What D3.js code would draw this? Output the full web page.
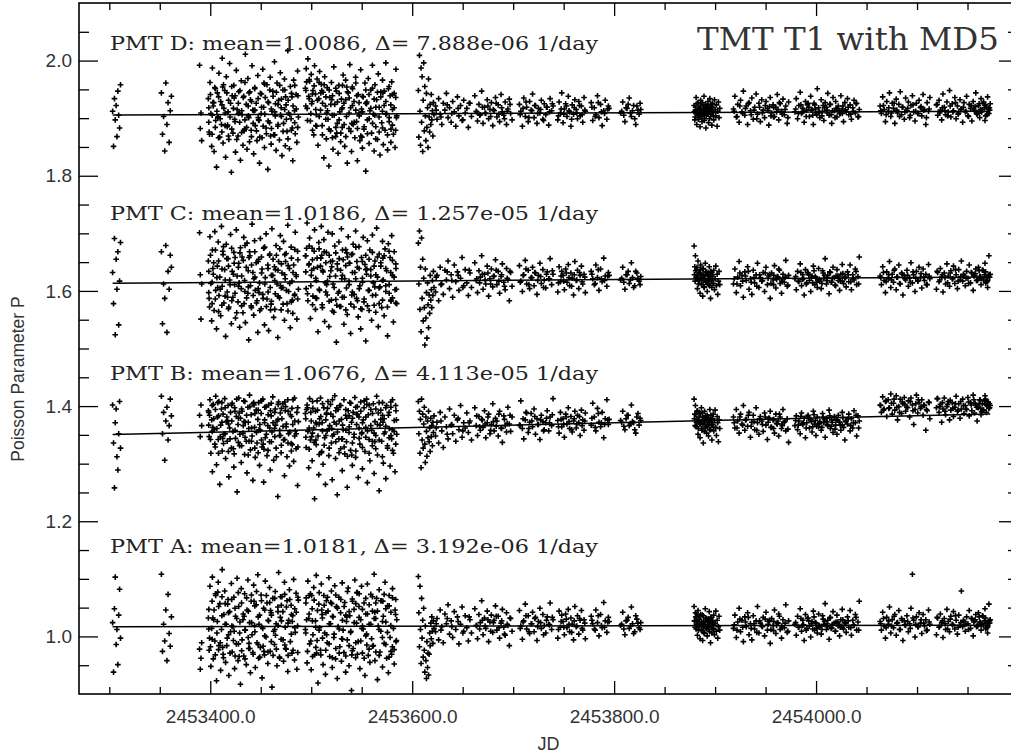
<!DOCTYPE html>
<html>
<head>
<meta charset="utf-8">
<script src="https://cdn.jsdelivr.net/npm/d3@7"></script>
<style>
  html, body { margin: 0; padding: 0; background: #fff; overflow: hidden; }
  svg { display: block; }
</style>
</head>
<body>
<svg id="chart" width="1011" height="756"></svg>
<script>
// Julian dates of the monitoring runs (shared by all four PMTs)
const jd = [
  2453303.3, 2453304.2, 2453305.1, 2453305.9, 2453306.8, 2453307.6, 2453308.5, 2453309.3, 2453310.2, 2453311.1,
  2453351.6, 2453352.7, 2453353.8, 2453354.9, 2453356.0, 2453357.1, 2453358.2, 2453359.3, 2453360.4, 2453361.5,
  2453389.4, 2453390.1, 2453390.8, 2453391.5,
  2453398.1, 2453398.9, 2453399.7, 2453400.6, 2453401.4, 2453402.1, 2453403.0, 2453403.8, 2453404.5, 2453405.4,
  2453406.2, 2453407.0, 2453407.9, 2453408.6, 2453409.4, 2453410.3, 2453411.1, 2453411.8, 2453412.7, 2453413.5,
  2453414.3, 2453415.2, 2453415.9, 2453416.8, 2453417.6, 2453418.4, 2453419.2, 2453420.1, 2453420.9, 2453421.7,
  2453422.5, 2453423.4, 2453424.1, 2453425.0, 2453425.8, 2453426.6, 2453427.5, 2453428.2, 2453429.1, 2453429.9,
  2453430.7, 2453431.5, 2453432.4, 2453433.2, 2453434.0, 2453434.8, 2453435.7, 2453436.4, 2453437.3, 2453438.1,
  2453438.9, 2453439.8, 2453440.5, 2453441.4, 2453442.2, 2453443.0, 2453443.9, 2453444.6, 2453445.5, 2453446.3,
  2453447.1, 2453447.9, 2453448.8, 2453449.6, 2453450.4, 2453451.3, 2453452.0, 2453452.9, 2453453.7, 2453454.5,
  2453455.3, 2453456.2, 2453457.0, 2453457.8, 2453458.7, 2453459.4, 2453460.3, 2453461.1, 2453461.9, 2453462.8,
  2453463.6, 2453464.4, 2453465.2, 2453466.1, 2453466.9, 2453467.7, 2453468.5, 2453469.4, 2453470.2, 2453471.0,
  2453471.9, 2453472.6, 2453473.5, 2453474.3, 2453475.1, 2453476.0, 2453476.8, 2453477.6, 2453478.4, 2453479.3,
  2453480.1, 2453480.9, 2453481.7, 2453482.6, 2453483.4, 2453484.2, 2453485.0, 2453485.8, 2453486.5, 2453487.3,
  2453494.2, 2453495.0, 2453495.9, 2453496.7, 2453497.5, 2453498.4, 2453499.2, 2453500.0, 2453500.9, 2453501.7,
  2453502.5, 2453503.3, 2453504.2, 2453505.0, 2453505.8, 2453506.7, 2453507.5, 2453508.3, 2453509.2, 2453510.0,
  2453510.8, 2453511.7, 2453512.5, 2453513.3, 2453514.1, 2453515.0, 2453515.8, 2453516.6, 2453517.5, 2453518.3,
  2453519.1, 2453520.0, 2453520.8, 2453521.6, 2453522.4, 2453523.3, 2453524.1, 2453524.9, 2453525.8, 2453526.6,
  2453527.4, 2453528.3, 2453529.1, 2453529.9, 2453530.7, 2453531.6, 2453532.4, 2453533.2, 2453534.1, 2453534.9,
  2453535.7, 2453536.6, 2453537.4, 2453538.2, 2453539.0, 2453539.9, 2453540.7, 2453541.5, 2453542.4, 2453543.2,
  2453544.0, 2453544.9, 2453545.7, 2453546.5, 2453547.3, 2453548.2, 2453549.0, 2453549.8, 2453550.7, 2453551.5,
  2453552.3, 2453553.2, 2453554.0, 2453554.8, 2453555.6, 2453556.5, 2453557.3, 2453558.1, 2453559.0, 2453559.8,
  2453560.6, 2453561.5, 2453562.3, 2453563.1, 2453563.9, 2453564.8, 2453565.6, 2453566.4, 2453567.3, 2453568.1,
  2453568.9, 2453569.8, 2453570.6, 2453571.4, 2453572.2, 2453573.1, 2453573.9, 2453574.7, 2453575.6, 2453576.4,
  2453577.2, 2453578.1, 2453578.9, 2453579.7, 2453580.5, 2453581.4, 2453582.2, 2453583.0, 2453583.9, 2453584.7,
  2453606.1, 2453606.6, 2453607.2, 2453607.7, 2453608.2, 2453608.8, 2453609.3, 2453609.8, 2453610.4, 2453610.9,
  2453611.4, 2453612.0, 2453612.5, 2453613.0, 2453613.6, 2453614.1, 2453614.6, 2453615.2, 2453615.7, 2453616.2,
  2453616.8, 2453617.3, 2453617.8, 2453618.4, 2453618.9, 2453619.4, 2453620.0, 2453620.5, 2453621.0, 2453621.6,
  2453623.1, 2453624.6, 2453626.2, 2453627.7, 2453629.3, 2453630.8, 2453632.4, 2453633.9, 2453635.5, 2453637.0,
  2453638.6, 2453640.1, 2453641.7, 2453643.2, 2453644.8, 2453646.3, 2453647.9, 2453649.4, 2453651.0, 2453652.5,
  2453654.1, 2453655.6, 2453657.2, 2453658.7, 2453662.0, 2453663.4, 2453664.7, 2453666.1, 2453667.5, 2453668.8,
  2453670.2, 2453671.6, 2453672.9, 2453674.3, 2453675.7, 2453677.0, 2453678.4, 2453679.8, 2453681.1, 2453682.5,
  2453683.9, 2453685.2, 2453686.6, 2453688.0, 2453689.3, 2453690.7, 2453692.1, 2453693.4, 2453694.8, 2453696.2,
  2453697.5, 2453698.9, 2453706.2, 2453707.6, 2453709.1, 2453710.5, 2453712.0, 2453713.4, 2453714.9, 2453716.3,
  2453717.8, 2453719.2, 2453720.7, 2453722.1, 2453723.6, 2453725.0, 2453726.5, 2453727.9, 2453729.4, 2453730.8,
  2453732.3, 2453733.7, 2453735.2, 2453736.6, 2453738.1, 2453739.5, 2453744.2, 2453745.5, 2453746.8, 2453748.1,
  2453749.4, 2453750.7, 2453752.0, 2453753.3, 2453754.6, 2453755.9, 2453757.2, 2453758.5, 2453759.8, 2453761.1,
  2453762.4, 2453763.7, 2453765.0, 2453766.3, 2453767.6, 2453768.9, 2453770.2, 2453771.5, 2453777.3, 2453778.8,
  2453780.4, 2453781.9, 2453783.5, 2453785.0, 2453786.6, 2453788.1, 2453789.7, 2453791.2, 2453792.8, 2453794.3,
  2453806.4, 2453808.5, 2453810.7, 2453812.8, 2453815.0, 2453817.1, 2453819.3, 2453821.4, 2453823.6, 2453825.7,
  2453879.2, 2453879.9, 2453880.5, 2453881.2, 2453881.8, 2453882.5, 2453883.1, 2453883.8, 2453884.4, 2453885.1,
  2453885.7, 2453886.4, 2453887.0, 2453887.7, 2453888.3, 2453889.0, 2453889.6, 2453890.3, 2453890.9, 2453891.6,
  2453892.2, 2453892.9, 2453893.5, 2453894.2, 2453894.8, 2453895.5, 2453896.1, 2453896.8, 2453897.4, 2453898.1,
  2453898.7, 2453899.4, 2453900.0, 2453900.7, 2453901.3, 2453902.0, 2453902.6, 2453903.3, 2453903.9, 2453904.6,
  2453918.2, 2453919.6, 2453921.0, 2453922.4, 2453923.8, 2453925.2, 2453926.6, 2453928.0, 2453929.4, 2453930.8,
  2453932.2, 2453933.6, 2453935.0, 2453936.4, 2453937.8, 2453939.2, 2453940.6, 2453942.0, 2453943.4, 2453944.8,
  2453946.2, 2453947.6, 2453949.0, 2453950.4, 2453951.8, 2453953.2, 2453954.6, 2453956.0, 2453957.4, 2453958.8,
  2453960.2, 2453961.6, 2453963.0, 2453964.4, 2453965.8, 2453967.2, 2453968.6, 2453970.0, 2453971.4, 2453972.8,
  2453979.1, 2453980.4, 2453981.7, 2453983.0, 2453984.3, 2453985.6, 2453986.9, 2453988.2, 2453989.5, 2453990.8,
  2453992.1, 2453993.4, 2453994.7, 2453996.0, 2453997.3, 2453998.6, 2453999.9, 2454001.2, 2454002.5, 2454003.8,
  2454005.1, 2454006.4, 2454007.7, 2454009.0, 2454010.3, 2454011.6, 2454012.9, 2454014.2, 2454015.5, 2454016.8,
  2454018.1, 2454019.4, 2454020.7, 2454022.0, 2454023.3, 2454024.6, 2454025.9, 2454027.2, 2454028.5, 2454029.8,
  2454031.1, 2454032.4, 2454033.7, 2454035.0, 2454036.3, 2454037.6, 2454038.9, 2454040.2, 2454041.5, 2454042.8,
  2454063.4, 2454064.7, 2454066.0, 2454067.4, 2454068.7, 2454070.0, 2454071.4, 2454072.7, 2454074.0, 2454075.4,
  2454076.7, 2454078.0, 2454079.4, 2454080.7, 2454082.0, 2454083.4, 2454084.7, 2454086.0, 2454087.4, 2454088.7,
  2454090.0, 2454091.4, 2454092.7, 2454094.0, 2454095.4, 2454096.7, 2454098.0, 2454099.4, 2454100.7, 2454102.0,
  2454103.4, 2454104.7, 2454106.0, 2454107.4, 2454108.7, 2454110.0, 2454111.4, 2454112.7, 2454119.2, 2454120.5,
  2454121.8, 2454123.1, 2454124.4, 2454125.7, 2454127.0, 2454128.3, 2454129.6, 2454130.9, 2454132.2, 2454133.5,
  2454134.8, 2454136.1, 2454137.4, 2454138.7, 2454140.0, 2454141.3, 2454142.6, 2454143.9, 2454145.2, 2454146.5,
  2454147.8, 2454149.1, 2454150.4, 2454151.7, 2454153.0, 2454154.3, 2454155.6, 2454156.9, 2454158.2, 2454159.5,
  2454160.8, 2454162.1, 2454163.4, 2454164.7, 2454166.0, 2454167.3, 2454168.6, 2454169.9, 2454171.2, 2454172.5,
  // second exposure of the night during the regular campaign
  2453623.8, 2453628.5, 2453634.7, 2453639.3, 2453645.5, 2453650.2, 2453656.4, 2453663.9, 2453666.8, 2453669.5,
  2453672.2, 2453675.0, 2453677.7, 2453680.4, 2453683.2, 2453685.9, 2453688.6, 2453691.4, 2453694.1, 2453696.9,
  2453707.0, 2453709.8, 2453712.7, 2453715.6, 2453718.5, 2453721.4, 2453724.3, 2453727.2, 2453730.1, 2453733.0,
  2453736.0, 2453738.8, 2453744.9, 2453747.5, 2453750.1, 2453752.7, 2453755.3, 2453757.9, 2453760.5, 2453763.1,
  2453765.7, 2453768.3, 2453770.9, 2453778.0, 2453781.2, 2453784.3, 2453787.4, 2453790.5, 2453793.6, 2453807.5,
  2453809.6, 2453811.8, 2453813.9, 2453816.1, 2453818.2, 2453820.4, 2453822.5, 2453824.7, 2453826.4, 2453795.0,
  2453879.5, 2453880.2, 2453880.8, 2453881.5, 2453882.1, 2453882.8, 2453883.4, 2453884.1, 2453884.7, 2453885.4,
  2453886.0, 2453886.7, 2453887.3, 2453888.0, 2453888.6, 2453889.3, 2453889.9, 2453890.6, 2453891.2, 2453891.9,
  2453892.5, 2453893.2, 2453893.8, 2453894.5, 2453895.1, 2453895.8, 2453896.4, 2453897.1, 2453897.7, 2453898.4,
  2453918.9, 2453921.7, 2453924.5, 2453927.3, 2453930.1, 2453932.9, 2453935.7, 2453938.5, 2453941.3, 2453944.1,
  2453946.9, 2453949.7, 2453952.5, 2453955.3, 2453958.1, 2453960.9, 2453963.7, 2453966.5, 2453969.3, 2453972.1,
  2453979.8, 2453982.4, 2453985.0, 2453987.6, 2453990.2, 2453992.8, 2453995.4, 2453998.0, 2454000.6, 2454003.2,
  2454005.8, 2454008.4, 2454011.0, 2454013.6, 2454016.2, 2454018.8, 2454021.4, 2454024.0, 2454026.6, 2454029.2,
  2454031.8, 2454034.4, 2454037.0, 2454039.6, 2454042.2, 2453999.3, 2454002.0, 2454007.0, 2454010.9, 2454014.9,
  2453986.3, 2453991.5, 2453996.7, 2454019.8, 2454023.0, 2454026.0, 2453953.9, 2453957.9, 2453962.3, 2453966.0,
  2454064.1, 2454066.7, 2454069.4, 2454072.0, 2454074.7, 2454077.3, 2454080.0, 2454082.7, 2454085.3, 2454088.0,
  2454090.7, 2454093.3, 2454096.0, 2454098.7, 2454101.3, 2454104.0, 2454106.7, 2454109.3, 2454112.0, 2454119.9,
  2454122.5, 2454125.1, 2454127.7, 2454130.3, 2454132.9, 2454135.5, 2454138.1, 2454140.7, 2454143.3, 2454145.9,
  2454148.5, 2454151.1, 2454153.7, 2454156.3, 2454158.9, 2454161.5, 2454164.1, 2454166.7, 2454169.3, 2454171.9,
  2454157.5, 2454160.1, 2454162.7, 2454165.4, 2454168.0, 2454170.6, 2454163.0, 2454167.9, 2454170.0, 2454171.7,
  // repeated exposures during the early dense campaign
  2453398.5, 2453398.6, 2453400.2, 2453401.8, 2453401.9, 2453403.4, 2453405.0, 2453405.1, 2453406.6, 2453408.2,
  2453408.3, 2453409.9, 2453411.5, 2453411.6, 2453413.1, 2453414.7, 2453414.8, 2453416.4, 2453418.0, 2453418.1,
  2453419.6, 2453421.2, 2453421.3, 2453422.9, 2453424.5, 2453424.6, 2453426.2, 2453427.8, 2453427.9, 2453429.4,
  2453431.0, 2453431.1, 2453432.7, 2453434.3, 2453434.4, 2453436.0, 2453437.6, 2453437.7, 2453439.2, 2453440.8,
  2453440.9, 2453442.5, 2453444.1, 2453444.2, 2453445.8, 2453447.4, 2453447.5, 2453449.1, 2453450.7, 2453450.8,
  2453452.4, 2453453.9, 2453454.0, 2453455.6, 2453457.2, 2453457.3, 2453458.9, 2453460.5, 2453460.6, 2453462.2,
  2453463.8, 2453463.9, 2453465.5, 2453467.1, 2453467.2, 2453468.8, 2453470.4, 2453470.5, 2453472.1, 2453473.7,
  2453473.8, 2453475.4, 2453477.0, 2453477.1, 2453478.7, 2453480.3, 2453480.4, 2453482.0, 2453483.6, 2453483.7,
  2453485.2, 2453486.6, 2453486.8, 2453399.3, 2453402.6, 2453407.4, 2453412.3, 2453417.2, 2453423.7, 2453428.6,
  2453433.5, 2453438.4, 2453443.3, 2453448.3, 2453453.2, 2453459.7, 2453464.6, 2453469.6, 2453474.6, 2453481.2,
  2453494.6, 2453494.7, 2453496.3, 2453497.9, 2453498.0, 2453499.6, 2453501.2, 2453501.3, 2453502.9, 2453504.5,
  2453504.6, 2453506.2, 2453507.8, 2453507.9, 2453509.5, 2453511.1, 2453511.2, 2453512.8, 2453514.4, 2453514.5,
  2453516.1, 2453517.7, 2453517.8, 2453519.4, 2453521.0, 2453521.1, 2453522.7, 2453524.3, 2453524.4, 2453526.0,
  2453527.6, 2453527.7, 2453529.3, 2453530.9, 2453531.0, 2453532.6, 2453534.2, 2453534.3, 2453535.9, 2453537.5,
  2453537.6, 2453539.2, 2453540.8, 2453540.9, 2453542.5, 2453544.1, 2453544.2, 2453545.8, 2453547.4, 2453547.5,
  2453549.1, 2453550.7, 2453550.8, 2453552.4, 2453554.0, 2453554.1, 2453555.7, 2453557.3, 2453557.4, 2453559.0,
  2453560.6, 2453560.7, 2453562.3, 2453563.9, 2453564.0, 2453565.6, 2453567.2, 2453567.3, 2453568.9, 2453570.5,
  2453570.6, 2453572.2, 2453573.8, 2453573.9, 2453575.5, 2453577.1, 2453577.2, 2453578.8, 2453580.4, 2453580.5,
  2453582.1, 2453583.6, 2453583.7, 2453584.4, 2453495.4, 2453500.4, 2453505.4, 2453510.4, 2453515.3, 2453520.3,
  2453525.3, 2453530.2, 2453535.2, 2453540.2, 2453545.2, 2453550.2, 2453555.1, 2453563.0, 2453571.0, 2453579.0
];

// Poisson parameter per PMT as plotted (each trace shifted by its offset below)
const pmtD = [
  1.912, 1.851, 1.934, 1.897, 1.922, 1.868, 1.947, 1.905, 1.883, 1.958,
  1.944, 1.872, 1.903, 1.843, 1.961, 1.889, 1.927, 1.858, 1.913, 1.938,
  1.992, 1.882, 1.909, 1.861,
  1.934, 1.876, 1.962, 1.908, 1.851, 1.987, 1.921, 1.842, 1.953, 1.896,
  1.815, 1.944, 1.903, 1.978, 1.867, 1.929, 1.889, 2.004, 1.857, 1.917,
  1.948, 1.832, 1.972, 1.885, 1.911, 1.863, 1.995, 1.926, 1.806, 1.939,
  1.874, 1.957, 1.898, 1.841, 1.983, 1.915, 1.869, 1.946, 1.893, 1.827,
  1.965, 1.906, 1.853, 1.938, 1.881, 2.011, 1.924, 1.846, 1.969, 1.901,
  1.859, 1.932, 1.879, 1.991, 1.914, 1.838, 1.951, 1.887, 1.926, 1.861,
  1.974, 1.897, 1.822, 1.943, 1.908, 1.866, 1.985, 1.919, 1.849, 1.936,
  1.883, 1.958, 1.811, 1.927, 1.892, 1.971, 1.855, 1.912, 1.947, 1.871,
  1.998, 1.904, 1.844, 1.961, 1.886, 1.931, 1.862, 1.979, 1.918, 1.835,
  1.949, 1.891, 1.968, 1.852, 1.923, 1.877, 2.017, 1.909, 1.847, 1.955,
  1.899, 1.937, 1.826, 1.966, 1.913, 1.873, 1.941, 1.858, 1.982, 1.902,
  1.952, 1.986, 1.917, 2.003, 1.938, 1.964, 1.895, 1.976, 1.929, 1.948,
  1.871, 1.991, 1.942, 1.906, 1.968, 1.853, 1.934, 1.981, 1.914, 1.959,
  1.887, 1.945, 1.831, 1.972, 1.921, 1.864, 1.953, 1.898, 1.817, 1.936,
  1.878, 1.962, 1.905, 1.846, 1.989, 1.924, 1.868, 1.947, 1.891, 1.839,
  1.957, 1.911, 1.859, 1.933, 1.884, 1.975, 1.926, 1.851, 1.966, 1.903,
  1.822, 1.944, 1.882, 1.993, 1.918, 1.842, 1.954, 1.889, 1.929, 1.866,
  1.971, 1.894, 1.826, 1.941, 1.909, 1.861, 1.984, 1.916, 1.848, 1.937,
  1.881, 1.961, 1.808, 1.925, 1.897, 1.969, 1.856, 1.913, 1.949, 1.874,
  1.992, 1.907, 1.843, 1.958, 1.885, 1.932, 1.863, 1.977, 1.919, 1.836,
  1.946, 1.892, 1.966, 1.854, 1.922, 1.879, 1.996, 1.908, 1.845, 1.951,
  1.901, 1.939, 1.858, 1.963, 1.915, 1.872, 1.943, 1.849, 1.985, 1.904,
  1.948, 1.867, 2.009, 1.912, 1.853, 1.987, 1.893, 1.972, 1.842, 1.931,
  1.996, 1.878, 1.955, 1.904, 1.861, 1.943, 1.884, 1.918, 1.849, 1.968,
  1.902, 1.876, 1.924, 1.889, 1.941, 1.897, 1.913, 1.869, 1.927, 1.906,
  1.921, 1.898, 1.934, 1.907, 1.889, 1.926, 1.914, 1.943, 1.901, 1.918,
  1.893, 1.929, 1.911, 1.886, 1.937, 1.904, 1.922, 1.896, 1.931, 1.909,
  1.917, 1.884, 1.926, 1.903, 1.939, 1.912, 1.895, 1.924, 1.906, 1.947,
  1.891, 1.919, 1.908, 1.932, 1.899, 1.915, 1.927, 1.887, 1.913, 1.936,
  1.902, 1.923, 1.894, 1.941, 1.911, 1.905, 1.928, 1.889, 1.916, 1.933,
  1.908, 1.897, 1.924, 1.912, 1.886, 1.935, 1.903, 1.919, 1.894, 1.929,
  1.914, 1.942, 1.901, 1.922, 1.891, 1.917, 1.909, 1.931, 1.898, 1.925,
  1.906, 1.919, 1.888, 1.934, 1.913, 1.921, 1.897, 1.928, 1.909, 1.944,
  1.892, 1.916, 1.925, 1.903, 1.938, 1.911, 1.886, 1.923, 1.907, 1.932,
  1.915, 1.899, 1.929, 1.904, 1.921, 1.893, 1.936, 1.912, 1.927, 1.896,
  1.918, 1.906, 1.939, 1.901, 1.924, 1.887, 1.913, 1.931, 1.898, 1.921,
  1.909, 1.928, 1.894, 1.917, 1.935, 1.903, 1.922, 1.889, 1.914, 1.926,
  1.922, 1.897, 1.914, 1.936, 1.889, 1.908, 1.927, 1.901, 1.918, 1.885,
  1.931, 1.911, 1.894, 1.924, 1.906, 1.938, 1.899, 1.916, 1.883, 1.921,
  1.909, 1.929, 1.892, 1.913, 1.934, 1.903, 1.919, 1.888, 1.926, 1.911,
  1.897, 1.932, 1.915, 1.904, 1.923, 1.886, 1.912, 1.928, 1.901, 1.917,
  1.916, 1.938, 1.902, 1.924, 1.893, 1.931, 1.911, 1.947, 1.905, 1.921,
  1.889, 1.927, 1.913, 1.935, 1.898, 1.919, 1.942, 1.907, 1.926, 1.894,
  1.932, 1.914, 1.901, 1.929, 1.917, 1.888, 1.936, 1.909, 1.923, 1.903,
  1.919, 1.941, 1.897, 1.925, 1.912, 1.933, 1.906, 1.921, 1.891, 1.928,
  1.911, 1.934, 1.899, 1.922, 1.945, 1.908, 1.917, 1.893, 1.929, 1.914,
  1.926, 1.903, 1.938, 1.915, 1.889, 1.923, 1.909, 1.951, 1.918, 1.901,
  1.932, 1.912, 1.896, 1.927, 1.919, 1.943, 1.905, 1.924, 1.891, 1.936,
  1.913, 1.929, 1.902, 1.921, 1.908, 1.939, 1.916, 1.894, 1.927, 1.911,
  1.934, 1.906, 1.923, 1.898, 1.918, 1.931, 1.909, 1.926, 1.902, 1.915,
  1.921, 1.908, 1.937, 1.915, 1.894, 1.929, 1.912, 1.944, 1.903, 1.926,
  1.917, 1.891, 1.933, 1.909, 1.924, 1.946, 1.906, 1.919, 1.898, 1.935,
  1.913, 1.928, 1.901, 1.922, 1.939, 1.911, 1.895, 1.926, 1.908, 1.931,
  1.918, 1.904, 1.941, 1.915, 1.889, 1.927, 1.912, 1.936, 1.923, 1.905,
  1.931, 1.914, 1.897, 1.942, 1.919, 1.906, 1.928, 1.911, 1.948, 1.902,
  1.925, 1.913, 1.936, 1.899, 1.921, 1.909, 1.932, 1.916, 1.893, 1.927,
  1.911, 1.938, 1.904, 1.924, 1.917, 1.895, 1.929, 1.913, 1.944, 1.907,
  1.922, 1.901, 1.934, 1.915, 1.928, 1.896, 1.919, 1.937, 1.908, 1.925,
  1.914, 1.902, 1.923, 1.908, 1.917, 1.897, 1.926, 1.911, 1.905, 1.919,
  1.909, 1.921, 1.903, 1.915, 1.926, 1.907, 1.918, 1.899, 1.912, 1.924,
  1.906, 1.917, 1.928, 1.901, 1.913, 1.922, 1.908, 1.915, 1.896, 1.919,
  1.911, 1.925, 1.904, 1.916, 1.907, 1.921, 1.913, 1.898, 1.918, 1.909,
  1.922, 1.906, 1.914, 1.919, 1.903, 1.927, 1.911, 1.908, 1.916, 1.912,
  1.905, 1.918, 1.924, 1.909, 1.913, 1.899, 1.921, 1.907, 1.915, 1.917,
  1.911, 1.902, 1.919, 1.908, 1.925, 1.913, 1.898, 1.916, 1.906, 1.921,
  1.914, 1.903, 1.927, 1.909, 1.917, 1.896, 1.912, 1.923, 1.905, 1.918,
  1.907, 1.921, 1.913, 1.899, 1.916, 1.924, 1.908, 1.911, 1.919, 1.904,
  1.912, 1.903, 1.921, 1.908, 1.917, 1.925, 1.906, 1.914, 1.899, 1.919,
  1.909, 1.922, 1.913, 1.904, 1.918, 1.911, 1.927, 1.907, 1.915, 1.901,
  1.916, 1.908, 1.923, 1.912, 1.903, 1.919, 1.914, 1.926, 1.906, 1.911,
  1.904, 1.918, 1.909, 1.924, 1.913, 1.901, 1.917, 1.908, 1.921, 1.914,
  1.919, 1.907, 1.912, 1.925, 1.903, 1.916, 1.909, 1.922, 1.914, 1.906,
  1.911, 1.923, 1.905, 1.917, 1.913, 1.908, 1.920, 1.902, 1.915, 1.910,
  1.913, 1.922, 1.906, 1.918, 1.909, 1.926, 1.914, 1.903, 1.919, 1.911,
  1.917, 1.905, 1.923, 1.912, 1.908, 1.920, 1.914, 1.901, 1.916, 1.924,
  1.909, 1.918, 1.913, 1.904, 1.921, 1.911, 1.927, 1.907, 1.915, 1.919,
  1.912, 1.903, 1.922, 1.916, 1.908, 1.925, 1.911, 1.918, 1.906, 1.914,
  1.920, 1.909, 1.915, 1.926, 1.904, 1.917, 1.912, 1.923, 1.908, 1.918,
  1.893, 1.918, 1.941, 1.872, 1.905, 1.927, 1.884, 1.951, 1.912, 1.866,
  1.937, 1.899, 1.876, 1.923, 1.958, 1.887, 1.909, 1.944, 1.869, 1.931,
  1.902, 1.955, 1.881, 1.917, 1.894, 1.939, 1.863, 1.926, 1.908, 1.948,
  1.875, 1.913, 1.936, 1.897, 1.962, 1.884, 1.921, 1.904, 1.946, 1.868,
  1.929, 1.891, 1.953, 1.914, 1.878, 1.934, 1.901, 1.867, 1.942, 1.919,
  1.886, 1.959, 1.907, 1.873, 1.928, 1.895, 1.949, 1.916, 1.882, 1.938,
  1.911, 1.871, 1.945, 1.924, 1.889, 1.957, 1.903, 1.933, 1.877, 1.915,
  1.949, 1.898, 1.864, 1.931, 1.906, 1.879, 1.943, 1.921, 1.892, 1.957,
  1.916, 1.884, 1.939, 1.872, 1.927, 1.901, 1.954, 1.888, 1.935, 1.909,
  1.878, 1.944, 1.913, 1.896, 1.961, 1.869, 1.925, 1.906, 1.937, 1.883,
  1.921, 1.948, 1.896, 1.934, 1.967, 1.908, 1.942, 1.879, 1.956, 1.915,
  1.887, 1.931, 1.962, 1.903, 1.944, 1.871, 1.926, 1.958, 1.898, 1.937,
  1.913, 1.881, 1.949, 1.924, 1.866, 1.939, 1.905, 1.952, 1.884, 1.928,
  1.897, 1.943, 1.874, 1.918, 1.957, 1.889, 1.932, 1.868, 1.946, 1.909,
  1.935, 1.877, 1.922, 1.951, 1.893, 1.914, 1.961, 1.882, 1.927, 1.904,
  1.869, 1.938, 1.911, 1.885, 1.949, 1.926, 1.873, 1.941, 1.899, 1.917,
  1.952, 1.891, 1.933, 1.864, 1.919, 1.945, 1.902, 1.876, 1.937, 1.912,
  1.883, 1.947, 1.907, 1.929, 1.871, 1.955, 1.894, 1.923, 1.888, 1.941,
  1.918, 1.879, 1.936, 1.901, 1.963, 1.925, 1.886, 1.948, 1.909, 1.932,
  1.874, 1.916, 1.954, 1.891, 1.939, 1.867, 1.928, 1.905, 1.944, 1.881
];

const pmtC = [
  1.632, 1.578, 1.691, 1.524, 1.655, 1.603, 1.668, 1.541, 1.617, 1.684,
  1.668, 1.543, 1.612, 1.587, 1.679, 1.528, 1.634, 1.603, 1.662, 1.641,
  1.701, 1.628, 1.551, 1.612,
  1.652, 1.587, 1.694, 1.613, 1.548, 1.671, 1.629, 1.566, 1.703, 1.601,
  1.534, 1.643, 1.685, 1.592, 1.624, 1.557, 1.712, 1.608, 1.663, 1.579,
  1.637, 1.521, 1.681, 1.598, 1.656, 1.572, 1.619, 1.698, 1.543, 1.634,
  1.589, 1.667, 1.611, 1.553, 1.706, 1.626, 1.581, 1.648, 1.537, 1.675,
  1.604, 1.659, 1.562, 1.693, 1.618, 1.545, 1.641, 1.683, 1.596, 1.515,
  1.668, 1.609, 1.574, 1.716, 1.632, 1.558, 1.687, 1.601, 1.649, 1.583,
  1.528, 1.655, 1.614, 1.691, 1.569, 1.638, 1.594, 1.674, 1.541, 1.623,
  1.699, 1.586, 1.645, 1.531, 1.662, 1.606, 1.577, 1.708, 1.627, 1.554,
  1.642, 1.595, 1.679, 1.612, 1.519, 1.651, 1.588, 1.696, 1.567, 1.631,
  1.606, 1.686, 1.549, 1.621, 1.665, 1.578, 1.714, 1.599, 1.639, 1.536,
  1.676, 1.617, 1.561, 1.645, 1.592, 1.702, 1.628, 1.551, 1.669, 1.603,
  1.661, 1.604, 1.718, 1.583, 1.645, 1.692, 1.552, 1.627, 1.674, 1.591,
  1.639, 1.706, 1.568, 1.618, 1.657, 1.529, 1.684, 1.601, 1.643, 1.712,
  1.576, 1.633, 1.689, 1.547, 1.614, 1.667, 1.593, 1.702, 1.538, 1.625,
  1.651, 1.584, 1.699, 1.612, 1.563, 1.678, 1.626, 1.511, 1.647, 1.596,
  1.685, 1.573, 1.636, 1.708, 1.589, 1.654, 1.542, 1.621, 1.672, 1.605,
  1.559, 1.694, 1.617, 1.648, 1.526, 1.663, 1.598, 1.681, 1.572, 1.632,
  1.704, 1.587, 1.641, 1.555, 1.677, 1.609, 1.534, 1.658, 1.622, 1.693,
  1.581, 1.646, 1.513, 1.629, 1.687, 1.601, 1.566, 1.671, 1.637, 1.549,
  1.697, 1.614, 1.575, 1.652, 1.593, 1.709, 1.624, 1.538, 1.664, 1.607,
  1.643, 1.571, 1.686, 1.619, 1.557, 1.673, 1.599, 1.635, 1.522, 1.682,
  1.611, 1.658, 1.584, 1.696, 1.627, 1.546, 1.668, 1.602, 1.639, 1.578,
  1.683, 1.612, 1.704, 1.568, 1.641, 1.529, 1.692, 1.587, 1.655, 1.548,
  1.622, 1.571, 1.506, 1.638, 1.553, 1.597, 1.518, 1.614, 1.576, 1.536,
  1.593, 1.561, 1.627, 1.584, 1.602, 1.571, 1.618, 1.592, 1.634, 1.606,
  1.598, 1.627, 1.583, 1.641, 1.612, 1.594, 1.636, 1.619, 1.652, 1.604,
  1.628, 1.589, 1.645, 1.616, 1.633, 1.601, 1.622, 1.658, 1.609, 1.637,
  1.614, 1.592, 1.631, 1.606, 1.649, 1.618, 1.597, 1.635, 1.624, 1.661,
  1.603, 1.629, 1.612, 1.643, 1.591, 1.621, 1.638, 1.607, 1.626, 1.654,
  1.611, 1.634, 1.596, 1.625, 1.647, 1.615, 1.602, 1.639, 1.619, 1.583,
  1.632, 1.608, 1.644, 1.617, 1.599, 1.628, 1.653, 1.612, 1.636, 1.604,
  1.623, 1.641, 1.609, 1.631, 1.594, 1.627, 1.648, 1.613, 1.637, 1.619,
  1.605, 1.633, 1.621, 1.656, 1.611, 1.629, 1.598, 1.642, 1.616, 1.634,
  1.627, 1.602, 1.638, 1.615, 1.646, 1.609, 1.631, 1.622, 1.593, 1.651,
  1.618, 1.636, 1.604, 1.627, 1.643, 1.612, 1.629, 1.597, 1.634, 1.621,
  1.611, 1.645, 1.623, 1.601, 1.638, 1.616, 1.657, 1.626, 1.608, 1.632,
  1.619, 1.641, 1.603, 1.628, 1.613, 1.649, 1.606, 1.634, 1.622, 1.611,
  1.678, 1.642, 1.661, 1.623, 1.637, 1.604, 1.652, 1.618, 1.631, 1.596,
  1.645, 1.612, 1.628, 1.591, 1.639, 1.607, 1.621, 1.648, 1.615, 1.633,
  1.599, 1.627, 1.611, 1.642, 1.619, 1.587, 1.632, 1.606, 1.625, 1.613,
  1.636, 1.602, 1.621, 1.643, 1.609, 1.629, 1.594, 1.617, 1.634, 1.611,
  1.612, 1.638, 1.597, 1.624, 1.651, 1.609, 1.627, 1.589, 1.633, 1.618,
  1.642, 1.603, 1.621, 1.594, 1.636, 1.614, 1.628, 1.648, 1.606, 1.623,
  1.617, 1.632, 1.599, 1.641, 1.611, 1.626, 1.587, 1.631, 1.619, 1.644,
  1.605, 1.625, 1.638, 1.613, 1.596, 1.629, 1.615, 1.653, 1.608, 1.627,
  1.621, 1.602, 1.634, 1.616, 1.647, 1.609, 1.628, 1.593, 1.637, 1.614,
  1.631, 1.618, 1.599, 1.626, 1.643, 1.611, 1.622, 1.606, 1.639, 1.617,
  1.604, 1.635, 1.621, 1.656, 1.612, 1.627, 1.595, 1.632, 1.615, 1.641,
  1.623, 1.609, 1.637, 1.618, 1.601, 1.629, 1.646, 1.613, 1.624, 1.607,
  1.633, 1.616, 1.645, 1.602, 1.628, 1.619, 1.638, 1.611, 1.625, 1.659,
  1.626, 1.611, 1.642, 1.618, 1.597, 1.633, 1.621, 1.651, 1.606, 1.629,
  1.615, 1.638, 1.602, 1.624, 1.645, 1.612, 1.631, 1.593, 1.627, 1.619,
  1.636, 1.608, 1.622, 1.649, 1.614, 1.628, 1.599, 1.634, 1.617, 1.641,
  1.623, 1.605, 1.638, 1.618, 1.629, 1.611, 1.646, 1.621, 1.603, 1.632,
  1.616, 1.639, 1.624, 1.598, 1.631, 1.612, 1.647, 1.626, 1.608, 1.635,
  1.621, 1.643, 1.613, 1.628, 1.604, 1.637, 1.619, 1.652, 1.617, 1.626,
  1.609, 1.634, 1.622, 1.645, 1.614, 1.631, 1.601, 1.627, 1.638, 1.618,
  1.641, 1.625, 1.611, 1.636, 1.619, 1.648, 1.623, 1.606, 1.661, 1.629,
  1.624, 1.611, 1.633, 1.618, 1.627, 1.606, 1.636, 1.621, 1.614, 1.629,
  1.619, 1.631, 1.612, 1.625, 1.636, 1.617, 1.628, 1.608, 1.622, 1.634,
  1.615, 1.627, 1.638, 1.611, 1.623, 1.632, 1.618, 1.625, 1.606, 1.629,
  1.621, 1.635, 1.614, 1.626, 1.617, 1.631, 1.623, 1.608, 1.628, 1.619,
  1.632, 1.616, 1.624, 1.629, 1.613, 1.637, 1.621, 1.618, 1.626, 1.622,
  1.615, 1.628, 1.634, 1.619, 1.623, 1.609, 1.631, 1.617, 1.625, 1.627,
  1.628, 1.617, 1.635, 1.622, 1.641, 1.626, 1.612, 1.631, 1.619, 1.637,
  1.623, 1.611, 1.638, 1.618, 1.627, 1.606, 1.621, 1.633, 1.615, 1.629,
  1.616, 1.631, 1.622, 1.609, 1.626, 1.634, 1.618, 1.621, 1.628, 1.613,
  1.621, 1.612, 1.631, 1.617, 1.626, 1.634, 1.615, 1.623, 1.608, 1.628,
  1.618, 1.631, 1.622, 1.613, 1.627, 1.620, 1.636, 1.616, 1.624, 1.610,
  1.625, 1.617, 1.632, 1.621, 1.612, 1.628, 1.623, 1.635, 1.615, 1.620,
  1.613, 1.627, 1.618, 1.633, 1.622, 1.610, 1.626, 1.617, 1.630, 1.623,
  1.628, 1.616, 1.621, 1.634, 1.612, 1.625, 1.618, 1.631, 1.623, 1.615,
  1.620, 1.632, 1.614, 1.626, 1.622, 1.617, 1.629, 1.611, 1.624, 1.619,
  1.623, 1.632, 1.616, 1.628, 1.619, 1.636, 1.624, 1.613, 1.629, 1.621,
  1.627, 1.615, 1.633, 1.622, 1.618, 1.630, 1.624, 1.611, 1.626, 1.634,
  1.619, 1.628, 1.623, 1.614, 1.631, 1.621, 1.637, 1.617, 1.625, 1.629,
  1.622, 1.613, 1.632, 1.626, 1.618, 1.635, 1.621, 1.628, 1.616, 1.624,
  1.630, 1.619, 1.625, 1.636, 1.614, 1.627, 1.622, 1.633, 1.618, 1.628,
  1.597, 1.634, 1.662, 1.578, 1.615, 1.649, 1.586, 1.671, 1.623, 1.564,
  1.652, 1.603, 1.575, 1.638, 1.677, 1.591, 1.619, 1.656, 1.569, 1.643,
  1.611, 1.674, 1.583, 1.629, 1.596, 1.658, 1.562, 1.641, 1.608, 1.666,
  1.574, 1.626, 1.653, 1.599, 1.679, 1.588, 1.635, 1.607, 1.661, 1.571,
  1.645, 1.592, 1.668, 1.624, 1.579, 1.651, 1.604, 1.566, 1.659, 1.631,
  1.587, 1.676, 1.612, 1.573, 1.639, 1.598, 1.664, 1.627, 1.582, 1.655,
  1.618, 1.568, 1.662, 1.636, 1.591, 1.673, 1.605, 1.647, 1.577, 1.628,
  1.663, 1.601, 1.565, 1.644, 1.613, 1.581, 1.657, 1.632, 1.594, 1.672,
  1.625, 1.586, 1.654, 1.572, 1.639, 1.606, 1.669, 1.589, 1.648, 1.614,
  1.578, 1.658, 1.621, 1.597, 1.675, 1.567, 1.637, 1.609, 1.651, 1.584,
  1.633, 1.661, 1.595, 1.647, 1.678, 1.609, 1.654, 1.576, 1.669, 1.622,
  1.588, 1.641, 1.673, 1.603, 1.657, 1.571, 1.636, 1.668, 1.598, 1.649,
  1.617, 1.582, 1.662, 1.635, 1.565, 1.652, 1.606, 1.666, 1.585, 1.638,
  1.599, 1.656, 1.573, 1.627, 1.671, 1.589, 1.644, 1.567, 1.659, 1.611,
  1.648, 1.577, 1.632, 1.664, 1.594, 1.621, 1.676, 1.583, 1.639, 1.604,
  1.569, 1.651, 1.615, 1.586, 1.662, 1.637, 1.574, 1.655, 1.601, 1.626,
  1.667, 1.592, 1.643, 1.563, 1.628, 1.659, 1.605, 1.578, 1.649, 1.618,
  1.584, 1.661, 1.609, 1.639, 1.572, 1.669, 1.596, 1.632, 1.588, 1.653,
  1.624, 1.579, 1.647, 1.603, 1.674, 1.636, 1.587, 1.662, 1.611, 1.642,
  1.575, 1.621, 1.666, 1.593, 1.651, 1.568, 1.638, 1.607, 1.657, 1.582
];

const pmtB = [
  1.402, 1.336, 1.258, 1.371, 1.395, 1.312, 1.289, 1.352, 1.408, 1.327,
  1.417, 1.352, 1.389, 1.306, 1.374, 1.398, 1.341, 1.366, 1.412, 1.383,
  1.384, 1.347, 1.402, 1.366,
  1.392, 1.347, 1.411, 1.318, 1.376, 1.286, 1.403, 1.359, 1.334, 1.417,
  1.298, 1.381, 1.342, 1.408, 1.264, 1.367, 1.395, 1.322, 1.386, 1.351,
  1.413, 1.309, 1.373, 1.339, 1.401, 1.277, 1.362, 1.389, 1.327, 1.405,
  1.356, 1.294, 1.397, 1.344, 1.382, 1.251, 1.368, 1.414, 1.331, 1.379,
  1.302, 1.391, 1.353, 1.409, 1.316, 1.372, 1.339, 1.284, 1.398, 1.361,
  1.419, 1.324, 1.385, 1.348, 1.271, 1.406, 1.363, 1.311, 1.393, 1.336,
  1.377, 1.406, 1.297, 1.358, 1.387, 1.329, 1.412, 1.268, 1.371, 1.345,
  1.399, 1.314, 1.366, 1.402, 1.338, 1.289, 1.383, 1.355, 1.416, 1.306,
  1.361, 1.395, 1.327, 1.374, 1.243, 1.407, 1.349, 1.388, 1.319, 1.378,
  1.404, 1.341, 1.279, 1.392, 1.364, 1.312, 1.411, 1.352, 1.296, 1.385,
  1.335, 1.396, 1.368, 1.304, 1.414, 1.357, 1.326, 1.389, 1.262, 1.373,
  1.387, 1.328, 1.402, 1.356, 1.293, 1.413, 1.341, 1.374, 1.305, 1.396,
  1.362, 1.239, 1.391, 1.333, 1.409, 1.348, 1.281, 1.378, 1.414, 1.319,
  1.371, 1.299, 1.397, 1.345, 1.264, 1.386, 1.357, 1.408, 1.314, 1.366,
  1.403, 1.336, 1.272, 1.382, 1.351, 1.418, 1.309, 1.369, 1.246, 1.394,
  1.343, 1.401, 1.326, 1.377, 1.288, 1.359, 1.411, 1.317, 1.384, 1.338,
  1.259, 1.392, 1.354, 1.406, 1.323, 1.372, 1.297, 1.389, 1.346, 1.415,
  1.311, 1.368, 1.399, 1.276, 1.381, 1.334, 1.407, 1.352, 1.291, 1.376,
  1.397, 1.321, 1.363, 1.412, 1.267, 1.385, 1.342, 1.305, 1.394, 1.358,
  1.331, 1.404, 1.283, 1.373, 1.349, 1.417, 1.315, 1.388, 1.253, 1.367,
  1.393, 1.339, 1.406, 1.301, 1.378, 1.355, 1.274, 1.401, 1.327, 1.384,
  1.361, 1.296, 1.398, 1.343, 1.411, 1.318, 1.375, 1.286, 1.392, 1.351,
  1.408, 1.352, 1.391, 1.318, 1.377, 1.293, 1.412, 1.341, 1.386, 1.327,
  1.369, 1.398, 1.334, 1.302, 1.381, 1.356, 1.313, 1.374, 1.345, 1.391,
  1.338, 1.362, 1.321, 1.379, 1.347, 1.366, 1.331, 1.372, 1.354, 1.383,
  1.348, 1.372, 1.336, 1.389, 1.357, 1.328, 1.381, 1.364, 1.343, 1.395,
  1.367, 1.352, 1.384, 1.339, 1.376, 1.359, 1.401, 1.346, 1.371, 1.362,
  1.388, 1.354, 1.374, 1.341, 1.397, 1.366, 1.349, 1.382, 1.358, 1.377,
  1.363, 1.392, 1.345, 1.371, 1.386, 1.352, 1.368, 1.404, 1.357, 1.379,
  1.374, 1.348, 1.391, 1.362, 1.337, 1.383, 1.366, 1.355, 1.398, 1.369,
  1.356, 1.381, 1.367, 1.409, 1.361, 1.343, 1.376, 1.388, 1.354, 1.372,
  1.387, 1.364, 1.395, 1.351, 1.378, 1.368, 1.342, 1.384, 1.373, 1.359,
  1.371, 1.392, 1.357, 1.381, 1.366, 1.413, 1.375, 1.353, 1.389, 1.364,
  1.378, 1.346, 1.386, 1.369, 1.397, 1.361, 1.382, 1.355, 1.374, 1.391,
  1.362, 1.384, 1.371, 1.349, 1.393, 1.376, 1.358, 1.388, 1.367, 1.405,
  1.381, 1.357, 1.396, 1.372, 1.364, 1.389, 1.345, 1.378, 1.411, 1.368,
  1.375, 1.391, 1.359, 1.384, 1.366, 1.402, 1.371, 1.353, 1.387, 1.379,
  1.412, 1.386, 1.401, 1.364, 1.378, 1.392, 1.351, 1.373, 1.389, 1.345,
  1.369, 1.397, 1.358, 1.381, 1.336, 1.374, 1.391, 1.362, 1.379, 1.353,
  1.384, 1.366, 1.348, 1.372, 1.394, 1.359, 1.377, 1.341, 1.368, 1.386,
  1.357, 1.375, 1.393, 1.363, 1.349, 1.382, 1.371, 1.338, 1.376, 1.361,
  1.381, 1.362, 1.394, 1.374, 1.353, 1.386, 1.369, 1.401, 1.358, 1.377,
  1.365, 1.389, 1.346, 1.372, 1.384, 1.359, 1.397, 1.371, 1.351, 1.382,
  1.374, 1.356, 1.388, 1.367, 1.342, 1.379, 1.391, 1.363, 1.376, 1.353,
  1.386, 1.369, 1.348, 1.381, 1.361, 1.394, 1.372, 1.357, 1.378, 1.337,
  1.366, 1.383, 1.359, 1.374, 1.352, 1.388, 1.368, 1.379, 1.345, 1.371,
  1.384, 1.362, 1.377, 1.355, 1.391, 1.369, 1.349, 1.381, 1.364, 1.373,
  1.358, 1.387, 1.371, 1.346, 1.379, 1.366, 1.393, 1.361, 1.376, 1.354,
  1.382, 1.367, 1.351, 1.384, 1.372, 1.358, 1.389, 1.363, 1.341, 1.375,
  1.369, 1.386, 1.357, 1.378, 1.362, 1.392, 1.371, 1.348, 1.383, 1.374,
  1.402, 1.389, 1.416, 1.395, 1.408, 1.382, 1.411, 1.397, 1.421, 1.386,
  1.405, 1.393, 1.418, 1.376, 1.399, 1.412, 1.387, 1.404, 1.415, 1.391,
  1.398, 1.409, 1.381, 1.414, 1.402, 1.368, 1.394, 1.419, 1.388, 1.406,
  1.396, 1.411, 1.384, 1.401, 1.358, 1.392, 1.407, 1.378, 1.397, 1.413,
  1.389, 1.403, 1.372, 1.395, 1.414, 1.385, 1.399, 1.408, 1.376, 1.393,
  1.406, 1.382, 1.398, 1.417, 1.391, 1.404, 1.379, 1.395, 1.412, 1.387,
  1.401, 1.394, 1.415, 1.383, 1.406, 1.392, 1.419, 1.388, 1.402, 1.374,
  1.397, 1.411, 1.385, 1.404, 1.393, 1.418, 1.389, 1.407, 1.396, 1.401,
  1.362, 1.374, 1.351, 1.368, 1.379, 1.357, 1.371, 1.383, 1.364, 1.376,
  1.369, 1.381, 1.358, 1.373, 1.365, 1.386, 1.361, 1.377, 1.370, 1.384,
  1.366, 1.378, 1.389, 1.361, 1.374, 1.382, 1.368, 1.376, 1.357, 1.379,
  1.371, 1.385, 1.364, 1.377, 1.368, 1.381, 1.373, 1.359, 1.378, 1.369,
  1.382, 1.366, 1.374, 1.379, 1.363, 1.387, 1.371, 1.368, 1.376, 1.372,
  1.365, 1.378, 1.384, 1.369, 1.373, 1.359, 1.381, 1.367, 1.375, 1.377,
  1.378, 1.366, 1.385, 1.372, 1.391, 1.375, 1.361, 1.381, 1.369, 1.387,
  1.373, 1.361, 1.388, 1.368, 1.377, 1.356, 1.371, 1.383, 1.365, 1.379,
  1.366, 1.381, 1.372, 1.359, 1.376, 1.384, 1.368, 1.371, 1.378, 1.363,
  1.371, 1.362, 1.381, 1.367, 1.376, 1.384, 1.365, 1.373, 1.358, 1.378,
  1.368, 1.381, 1.372, 1.363, 1.377, 1.370, 1.386, 1.366, 1.374, 1.360,
  1.375, 1.367, 1.382, 1.371, 1.362, 1.378, 1.373, 1.385, 1.365, 1.370,
  1.363, 1.377, 1.368, 1.383, 1.372, 1.360, 1.376, 1.367, 1.380, 1.373,
  1.378, 1.366, 1.371, 1.384, 1.362, 1.375, 1.368, 1.381, 1.373, 1.365,
  1.370, 1.382, 1.364, 1.376, 1.372, 1.367, 1.379, 1.361, 1.374, 1.369,
  1.401, 1.393, 1.409, 1.396, 1.405, 1.412, 1.398, 1.389, 1.407, 1.403,
  1.397, 1.408, 1.392, 1.404, 1.411, 1.399, 1.402, 1.394, 1.406, 1.413,
  1.399, 1.406, 1.391, 1.403, 1.410, 1.396, 1.404, 1.393, 1.408, 1.401,
  1.395, 1.407, 1.402, 1.411, 1.398, 1.404, 1.390, 1.409, 1.401, 1.397,
  1.405, 1.398, 1.410, 1.393, 1.403, 1.407, 1.396, 1.412, 1.400, 1.404,
  1.367, 1.389, 1.342, 1.401, 1.356, 1.378, 1.329, 1.394, 1.361, 1.318,
  1.383, 1.347, 1.406, 1.372, 1.335, 1.397, 1.352, 1.381, 1.321, 1.369,
  1.343, 1.402, 1.374, 1.326, 1.391, 1.358, 1.412, 1.337, 1.379, 1.351,
  1.395, 1.331, 1.366, 1.408, 1.346, 1.384, 1.315, 1.372, 1.399, 1.339,
  1.362, 1.404, 1.327, 1.387, 1.354, 1.319, 1.393, 1.368, 1.341, 1.409,
  1.334, 1.376, 1.398, 1.351, 1.323, 1.385, 1.362, 1.405, 1.338, 1.371,
  1.389, 1.347, 1.312, 1.377, 1.403, 1.358, 1.332, 1.396, 1.365, 1.342,
  1.407, 1.369, 1.336, 1.391, 1.355, 1.322, 1.382, 1.411, 1.348, 1.374,
  1.352, 1.397, 1.329, 1.384, 1.363, 1.406, 1.344, 1.375, 1.317, 1.388,
  1.373, 1.339, 1.402, 1.359, 1.325, 1.392, 1.367, 1.349, 1.399, 1.333,
  1.378, 1.346, 1.397, 1.362, 1.325, 1.389, 1.353, 1.408, 1.337, 1.371,
  1.341, 1.393, 1.369, 1.316, 1.382, 1.357, 1.404, 1.332, 1.376, 1.349,
  1.396, 1.361, 1.327, 1.386, 1.348, 1.411, 1.372, 1.338, 1.392, 1.355,
  1.319, 1.374, 1.401, 1.343, 1.367, 1.329, 1.394, 1.358, 1.313, 1.383,
  1.364, 1.405, 1.336, 1.379, 1.351, 1.398, 1.322, 1.385, 1.362, 1.344,
  1.391, 1.328, 1.371, 1.409, 1.346, 1.381, 1.357, 1.318, 1.402, 1.366,
  1.339, 1.387, 1.353, 1.326, 1.395, 1.368, 1.406, 1.341, 1.377, 1.312,
  1.384, 1.352, 1.397, 1.365, 1.331, 1.389, 1.345, 1.407, 1.359, 1.323,
  1.356, 1.401, 1.334, 1.376, 1.394, 1.347, 1.369, 1.321, 1.388, 1.361,
  1.397, 1.343, 1.379, 1.315, 1.386, 1.354, 1.403, 1.338, 1.372, 1.349
];

const pmtA = [
  1.024, 0.938, 1.048, 1.103, 0.986, 1.012, 0.951, 1.037, 1.082, 0.997,
  1.108, 0.974, 1.021, 0.992, 1.046, 0.958, 1.073, 1.005, 0.983, 1.034,
  0.978, 0.943, 0.962, 0.989,
  1.032, 0.976, 1.087, 0.948, 1.014, 1.103, 0.961, 1.046, 0.992, 1.071,
  0.923, 1.026, 1.094, 0.984, 1.057, 0.941, 1.012, 1.116, 0.969, 1.038,
  1.079, 0.955, 1.021, 0.997, 1.064, 0.932, 1.043, 1.008, 1.092, 0.973,
  1.017, 1.068, 0.944, 1.035, 0.987, 1.101, 0.958, 1.052, 1.006, 0.917,
  1.083, 0.994, 1.029, 0.966, 1.074, 1.011, 0.951, 1.046, 1.098, 0.979,
  1.024, 0.937, 1.061, 1.003, 0.972, 1.089, 1.019, 0.946, 1.055, 0.989,
  1.107, 0.962, 1.037, 0.981, 1.072, 0.928, 1.014, 1.049, 0.968, 1.096,
  0.999, 1.058, 0.953, 1.027, 1.085, 0.974, 1.041, 0.912, 1.066, 1.009,
  0.986, 1.078, 1.022, 0.949, 1.051, 1.111, 0.964, 1.033, 0.995, 1.069,
  1.043, 0.957, 1.094, 1.016, 0.978, 1.062, 0.939, 1.028, 1.081, 0.991,
  1.054, 0.971, 1.036, 1.099, 0.959, 1.007, 1.075, 0.943, 1.018, 1.063,
  1.012, 1.067, 0.954, 1.096, 1.031, 0.987, 1.074, 0.942, 1.048, 1.003,
  1.085, 0.968, 1.027, 1.106, 0.993, 0.919, 1.056, 1.015, 0.976, 1.091,
  1.038, 0.951, 1.071, 1.006, 0.934, 1.062, 0.989, 1.044, 1.102, 0.965,
  1.022, 1.079, 0.946, 1.034, 0.998, 1.088, 0.961, 1.052, 0.927, 1.017,
  1.068, 0.982, 1.041, 0.957, 1.093, 1.011, 0.972, 1.059, 0.938, 1.026,
  0.994, 1.084, 0.949, 1.036, 1.007, 0.906, 1.065, 0.979, 1.047, 1.098,
  0.963, 1.023, 1.076, 0.991, 1.052, 0.944, 1.029, 1.087, 0.971, 1.013,
  1.058, 0.932, 1.039, 1.004, 1.091, 0.967, 1.021, 0.955, 1.073, 0.996,
  1.044, 0.984, 1.108, 0.958, 1.031, 1.066, 0.925, 1.018, 1.081, 0.973,
  1.009, 1.062, 0.947, 1.035, 0.988, 1.094, 1.025, 0.962, 1.053, 0.937,
  1.071, 0.998, 1.042, 0.969, 1.083, 1.014, 0.952, 1.046, 0.991, 1.029,
  1.104, 1.041, 0.982, 1.087, 1.012, 0.953, 1.066, 0.997, 1.028, 0.964,
  1.049, 0.976, 0.938, 1.018, 0.958, 0.927, 0.991, 0.946, 0.971, 0.933,
  0.969, 1.006, 0.984, 1.023, 0.996, 1.034, 1.009, 0.988, 1.027, 1.014,
  1.008, 1.031, 0.994, 1.046, 1.017, 0.989, 1.039, 1.022, 1.055, 1.004,
  1.027, 0.998, 1.043, 1.012, 1.034, 0.987, 1.021, 1.051, 1.009, 1.036,
  1.015, 0.992, 1.029, 1.006, 1.048, 1.019, 0.996, 1.038, 1.024, 1.062,
  1.003, 1.032, 1.014, 1.044, 0.991, 1.025, 1.037, 1.007, 1.028, 1.053,
  1.011, 1.035, 0.997, 1.023, 1.047, 1.016, 1.002, 1.041, 1.019, 0.984,
  1.031, 1.009, 1.045, 1.018, 0.995, 1.027, 1.056, 1.013, 1.036, 1.005,
  1.022, 1.042, 1.008, 1.033, 0.993, 1.026, 1.049, 1.014, 1.038, 1.019,
  1.006, 1.034, 1.021, 1.058, 1.012, 1.029, 0.997, 1.044, 1.016, 1.037,
  1.026, 1.003, 1.039, 1.015, 1.047, 1.008, 1.032, 1.021, 0.994, 1.052,
  1.017, 1.036, 1.004, 1.028, 1.045, 1.011, 1.029, 0.996, 1.035, 1.022,
  1.013, 1.046, 1.024, 1.001, 1.038, 1.015, 1.059, 1.027, 1.007, 1.033,
  1.019, 1.042, 1.003, 1.028, 1.014, 1.051, 1.005, 1.036, 1.023, 1.012,
  1.052, 1.027, 1.041, 1.013, 1.034, 1.002, 1.045, 1.018, 1.029, 0.996,
  1.038, 1.011, 1.024, 0.993, 1.036, 1.007, 1.021, 1.048, 1.015, 1.031,
  1.001, 1.026, 1.012, 1.043, 1.019, 0.989, 1.033, 1.006, 1.024, 1.014,
  1.037, 1.003, 1.022, 1.044, 1.009, 1.028, 0.997, 1.017, 1.035, 1.011,
  1.014, 1.037, 0.998, 1.025, 1.049, 1.008, 1.028, 0.991, 1.034, 1.017,
  1.041, 1.003, 1.022, 0.994, 1.036, 1.013, 1.027, 1.052, 1.006, 1.023,
  1.018, 1.033, 1.001, 1.042, 1.011, 1.026, 0.988, 1.031, 1.019, 1.046,
  1.005, 1.024, 1.039, 1.012, 0.997, 1.029, 1.015, 1.055, 1.007, 1.027,
  1.021, 1.002, 1.035, 1.016, 1.048, 1.009, 1.028, 0.993, 1.038, 1.014,
  1.032, 1.018, 0.999, 1.026, 1.044, 1.011, 1.023, 1.006, 1.039, 1.017,
  1.004, 1.036, 1.021, 1.057, 1.012, 1.028, 0.995, 1.033, 1.015, 1.043,
  1.023, 1.009, 1.037, 1.018, 1.001, 1.029, 1.047, 1.013, 1.024, 1.007,
  1.034, 1.016, 1.045, 1.002, 1.028, 1.019, 1.038, 1.011, 1.025, 1.061,
  1.026, 1.011, 1.042, 1.018, 0.997, 1.033, 1.021, 1.051, 1.006, 1.029,
  1.015, 1.038, 1.002, 1.024, 1.045, 1.012, 1.031, 0.993, 1.027, 1.019,
  1.036, 1.008, 1.022, 1.049, 1.108, 1.028, 0.999, 1.034, 1.017, 1.041,
  1.023, 1.005, 1.038, 1.018, 1.029, 1.011, 1.046, 1.021, 1.003, 1.032,
  1.016, 1.039, 1.024, 0.998, 1.031, 1.012, 1.047, 1.026, 1.008, 1.035,
  1.021, 1.043, 1.013, 1.028, 1.004, 1.037, 1.019, 1.079, 1.017, 1.026,
  1.009, 1.034, 1.022, 1.045, 1.014, 1.031, 1.001, 1.027, 1.038, 1.018,
  1.041, 1.025, 1.011, 1.036, 1.019, 1.048, 1.023, 1.006, 1.056, 1.029,
  1.022, 1.011, 1.031, 1.017, 1.026, 1.006, 1.034, 1.019, 1.013, 1.028,
  1.018, 1.029, 1.009, 1.024, 1.035, 1.015, 1.027, 1.004, 1.021, 1.032,
  1.014, 1.025, 1.036, 1.008, 1.022, 1.031, 1.017, 1.024, 1.003, 1.028,
  1.020, 1.033, 1.012, 1.026, 1.016, 1.030, 1.021, 1.007, 1.027, 1.018,
  1.031, 1.014, 1.023, 1.028, 1.011, 1.036, 1.019, 1.016, 1.025, 1.021,
  1.013, 1.027, 1.033, 1.018, 1.022, 1.008, 1.030, 1.015, 1.024, 1.026,
  1.027, 1.016, 1.034, 1.021, 1.039, 1.025, 1.011, 1.030, 1.018, 1.036,
  1.022, 1.010, 1.037, 1.017, 1.026, 1.005, 1.020, 1.032, 1.014, 1.028,
  1.015, 1.030, 1.021, 1.008, 1.025, 1.033, 1.017, 1.020, 1.027, 1.012,
  1.020, 1.011, 1.030, 1.016, 1.025, 1.033, 1.014, 1.022, 1.007, 1.027,
  1.017, 1.030, 1.021, 1.012, 1.026, 1.019, 1.035, 1.015, 1.023, 1.009,
  1.024, 1.016, 1.031, 1.020, 1.011, 1.027, 1.022, 1.034, 1.014, 1.019,
  1.012, 1.026, 1.017, 1.032, 1.021, 1.009, 1.025, 1.016, 1.029, 1.022,
  1.027, 1.015, 1.020, 1.033, 1.011, 1.024, 1.017, 1.030, 1.022, 1.014,
  1.019, 1.031, 1.013, 1.025, 1.021, 1.016, 1.028, 1.010, 1.023, 1.018,
  1.022, 1.031, 1.015, 1.027, 1.018, 1.035, 1.023, 1.012, 1.028, 1.020,
  1.026, 1.014, 1.032, 1.021, 1.017, 1.029, 1.023, 1.010, 1.025, 1.033,
  1.018, 1.027, 1.022, 1.013, 1.030, 1.020, 1.036, 1.016, 1.024, 1.028,
  1.021, 1.012, 1.031, 1.025, 1.017, 1.034, 1.020, 1.027, 1.015, 1.023,
  1.029, 1.018, 1.024, 1.035, 1.013, 1.026, 1.021, 1.032, 1.017, 1.027,
  1.013, 1.047, 0.982, 1.061, 0.995, 1.029, 0.968, 1.074, 1.006, 0.977,
  1.052, 0.989, 1.036, 1.069, 0.963, 1.021, 1.057, 0.984, 1.041, 1.003,
  0.971, 1.064, 1.018, 0.993, 1.049, 0.966, 1.031, 1.076, 0.987, 1.025,
  1.058, 0.975, 1.039, 1.011, 0.961, 1.067, 0.998, 1.044, 0.979, 1.072,
  1.024, 0.969, 1.053, 1.008, 1.078, 0.986, 1.034, 0.964, 1.062, 1.017,
  0.983, 1.046, 1.001, 1.071, 0.973, 1.028, 1.059, 0.991, 1.037, 0.967,
  1.066, 1.012, 0.978, 1.043, 1.019, 0.962, 1.054, 1.027, 0.994, 1.073,
  0.985, 1.051, 1.023, 0.967, 1.064, 1.004, 1.038, 0.976, 1.048, 1.015,
  1.042, 0.972, 1.068, 0.997, 1.032, 1.077, 0.981, 1.056, 1.009, 0.965,
  1.035, 0.988, 1.061, 1.021, 0.974, 1.045, 1.002, 1.069, 0.979, 1.026,
  1.006, 1.058, 0.974, 1.039, 1.071, 0.992, 1.027, 0.965, 1.063, 1.016,
  0.981, 1.045, 1.011, 1.076, 0.968, 1.032, 0.997, 1.054, 0.976, 1.041,
  1.068, 0.987, 1.022, 1.059, 0.963, 1.035, 1.004, 1.072, 0.979, 1.049,
  1.013, 0.971, 1.064, 1.028, 0.995, 1.052, 0.966, 1.037, 1.078, 0.984,
  1.043, 1.009, 0.975, 1.061, 1.024, 0.989, 1.057, 0.969, 1.033, 1.074,
  0.992, 1.047, 1.018, 0.962, 1.066, 1.001, 1.039, 0.978, 1.055, 1.021,
  1.069, 0.983, 1.031, 1.058, 0.973, 1.044, 1.012, 0.967, 1.062, 0.998,
  1.026, 1.073, 0.986, 1.048, 1.007, 0.964, 1.053, 1.019, 0.982, 1.067,
  0.977, 1.038, 1.064, 0.993, 1.029, 1.071, 0.971, 1.046, 1.003, 1.057,
  1.051, 0.996, 1.034, 0.968, 1.076, 1.014, 0.985, 1.042, 1.061, 0.974
];

// Per-PMT fit results and the vertical shift applied to each trace
const pmtNames   = ["A", "B", "C", "D"];
const pmtOffsets = [0.0, 0.3, 0.6, 0.9];
const pmtMeans   = [1.0181, 1.0676, 1.0186, 1.0086];
const pmtSlopes  = [3.192e-06, 4.113e-05, 1.257e-05, 7.888e-06];

// Axis ranges and ticks
const xDomain = [2453270, 2454200];
const yDomain = [0.9, 2.1];
const xMajorTicks = [2453400, 2453600, 2453800, 2454000];
const xMinorTicks = [2453300, 2453350, 2453450, 2453500, 2453550, 2453650, 2453700, 2453750,
                     2453850, 2453900, 2453950, 2454050, 2454100, 2454150];
const yMajorTicks = [1.0, 1.2, 1.4, 1.6, 1.8, 2.0];
const yMinorTicks = [0.95, 1.05, 1.1, 1.15, 1.25, 1.3, 1.35, 1.45, 1.5, 1.55,
                     1.65, 1.7, 1.75, 1.85, 1.9, 1.95, 2.05];

const plotTitle = "TMT T1 with MD5";
const xTitle = "JD";
const yTitle = "Poisson Parameter P";

// ---------------------------------------------------------------------------
const svg = d3.select("#chart");
const plotL = 79, plotR = 1018, plotT = 3, plotB = 694;

const x = d3.scaleLinear().domain(xDomain).range([plotL, plotR]);
const y = d3.scaleLinear().domain(yDomain).range([plotB, plotT]);

const tickFont = "'Liberation Sans', Arial, sans-serif";
const serifFont = "'DejaVu Serif', 'Liberation Serif', serif";

function styleAxis(g, showText) {
  g.select(".domain").remove();
  g.selectAll(".tick line").attr("stroke", "#000").attr("stroke-width", 1.3);
  if (showText) {
    g.selectAll(".tick text")
      .attr("fill", "#333")
      .style("font-family", tickFont)
      .style("font-size", "19px");
  } else {
    g.selectAll(".tick text").remove();
  }
}

// Bottom axis: labelled majors + minors
svg.append("g").attr("transform", `translate(0,${plotB})`)
  .call(d3.axisBottom(x).tickValues(xMajorTicks).tickSize(-13).tickPadding(16)
        .tickFormat(d => d.toFixed(1)))
  .call(g => styleAxis(g, true));
svg.append("g").attr("transform", `translate(0,${plotB})`)
  .call(d3.axisBottom(x).tickValues(xMinorTicks).tickSize(-7))
  .call(g => styleAxis(g, false));

// Top axis (ticks only)
svg.append("g").attr("transform", `translate(0,${plotT})`)
  .call(d3.axisTop(x).tickValues(xMajorTicks).tickSize(-13))
  .call(g => styleAxis(g, false));
svg.append("g").attr("transform", `translate(0,${plotT})`)
  .call(d3.axisTop(x).tickValues(xMinorTicks).tickSize(-7))
  .call(g => styleAxis(g, false));

// Left axis: labelled majors + minors
svg.append("g").attr("transform", `translate(${plotL},0)`)
  .call(d3.axisLeft(y).tickValues(yMajorTicks).tickSize(-19).tickPadding(7)
        .tickFormat(d3.format(".1f")))
  .call(g => styleAxis(g, true));
svg.append("g").attr("transform", `translate(${plotL},0)`)
  .call(d3.axisLeft(y).tickValues(yMinorTicks).tickSize(-10))
  .call(g => styleAxis(g, false));

// Right axis (ticks only)
svg.append("g").attr("transform", `translate(${plotR},0)`)
  .call(d3.axisRight(y).tickValues(yMajorTicks).tickSize(-19))
  .call(g => styleAxis(g, false));
svg.append("g").attr("transform", `translate(${plotR},0)`)
  .call(d3.axisRight(y).tickValues(yMinorTicks).tickSize(-10))
  .call(g => styleAxis(g, false));

// Plot frame
svg.append("rect")
  .attr("x", plotL).attr("y", plotT)
  .attr("width", plotR - plotL).attr("height", plotB - plotT)
  .attr("fill", "none").attr("stroke", "#000").attr("stroke-width", 1.6);

// Data points as plus symbols
const series = [pmtA, pmtB, pmtC, pmtD];
const plus = "M-2.8,0H2.8M0,-2.8V2.8";
const pts = svg.append("g").attr("stroke", "#000").attr("stroke-width", 1.6).attr("fill", "none");
series.forEach(vals => {
  pts.selectAll(null)
    .data(d3.range(Math.min(vals.length, jd.length)))
    .join("path")
    .attr("d", plus)
    .attr("transform", i => `translate(${x(jd[i]).toFixed(2)},${y(vals[i]).toFixed(2)})`);
});

// Linear trend for each PMT, spanning the observed dates
const jdExtent = d3.extent(jd);
const jdMean = d3.mean(jd);
const trend = d3.line().x(d => x(d[0])).y(d => y(d[1]));
pmtNames.forEach((name, k) => {
  const f = t => pmtOffsets[k] + pmtMeans[k] + pmtSlopes[k] * (t - jdMean);
  svg.append("path")
    .datum(jdExtent.map(t => [t, f(t)]))
    .attr("d", trend)
    .attr("fill", "none").attr("stroke", "#000").attr("stroke-width", 1.5);
});

// Per-PMT annotation
function fmtExp(v) {
  const [m, e] = v.toExponential(3).split("e");
  const n = Math.abs(+e);
  return `${m}e${+e < 0 ? "-" : "+"}${n < 10 ? "0" + n : n}`;
}
const labelBaselines = [553, 380, 220, 50];
pmtNames.forEach((name, k) => {
  svg.append("text")
    .attr("x", 110).attr("y", labelBaselines[k])
    .attr("textLength", 488).attr("lengthAdjust", "spacingAndGlyphs")
    .style("font-family", serifFont).style("font-size", "19px")
    .attr("fill", "#222")
    .text(`PMT ${name}: mean=${pmtMeans[k].toFixed(4)}, \u0394= ${fmtExp(pmtSlopes[k])} 1/day`);
});

// Title
svg.append("text")
  .attr("x", 697).attr("y", 50)
  .attr("textLength", 302).attr("lengthAdjust", "spacingAndGlyphs")
  .style("font-family", serifFont).style("font-size", "32px")
  .attr("fill", "#333")
  .text(plotTitle);

// Axis titles
svg.append("text")
  .attr("x", (plotL + plotR) / 2).attr("y", 750)
  .attr("text-anchor", "middle")
  .style("font-family", tickFont).style("font-size", "18px")
  .attr("fill", "#333")
  .text(xTitle);

svg.append("text")
  .attr("transform", "translate(24,379) rotate(-90)")
  .attr("text-anchor", "middle")
  .style("font-family", tickFont).style("font-size", "17.5px")
  .attr("fill", "#333")
  .text(yTitle);
</script>
</body>
</html>
